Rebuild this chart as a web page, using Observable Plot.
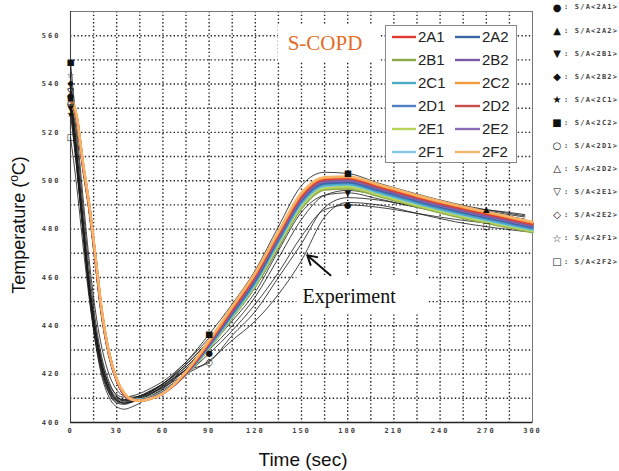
<!DOCTYPE html>
<html><head><meta charset="utf-8">
<script src="https://cdn.jsdelivr.net/npm/d3@7"></script>
<script src="https://cdn.jsdelivr.net/npm/@observablehq/plot@0.6"></script>
<style>body{margin:0;background:#fff} svg{display:block}</style>
</head><body><div id="chart"></div>
<script>
// ---------- simulation curves (S-COPD) ----------
const simTime = [0,4,8,12,16,20,25,30,35,40,45,50,60,75,90,105,120,135,150,165,180,200,225,250,275,300];
const sim2F2 = [535,527,508,491,470,448,429,418,412,409.5,409,409.5,412,421,434,448,462,479,495,501.5,501.8,498.5,494,490,486.5,483];
const sim2C2 = [535,527,508,491,470,448,429,418,412,409.5,409,409.5,412,421,433.5,447.5,461.5,478.5,494.5,501.2,501.5,498.2,493.7,489.7,486.2,482.7];
const sim2A1 = [534,526,507,490,469,447,428.5,417.5,411.5,409.5,409,409.5,412,420.5,433,447,461,478,494,500.8,501.2,497.8,493.3,489.3,485.8,482.3];
const sim2D2 = [534,526,507,490,469,447,428.5,417.5,411.5,409.5,409,409.5,412,420.5,433,446.5,460.5,477.5,493.5,500.5,500.9,497.5,493,489,485.5,482];
const sim2B2 = [534,526,507,490,469,447,428.5,417.5,411.5,409.5,409,409.7,412.2,420.5,432.5,446,460,477,493,500,500.4,497,492.5,488.5,485,481.5];
const sim2E2 = [534,526,507,490,469,447,428.5,417.5,411.5,409.5,409,409.7,412.2,420.3,432.3,445.8,459.7,476.6,492.6,499.7,500.1,496.7,492.2,488.2,484.7,481.2];
const sim2A2 = [534,526,507,490,469,447,428.5,417.5,411.5,409.5,409.2,409.8,412.3,420.3,432,445.3,459,476,492,499,499.5,496.2,491.7,487.7,484.2,480.8];
const sim2D1 = [534,526,507,490,469,447,428.5,417.5,411.5,409.5,409.2,409.8,412.3,420.2,431.8,445,458.7,475.6,491.6,498.8,499.2,495.9,491.4,487.4,483.9,480.5];
const sim2C1 = [534,526,507,490,469,447,428.5,417.5,411.5,409.5,409.3,409.9,412.4,420.2,431.5,444.5,458,475,491,498.2,498.6,495.3,490.8,486.8,483.3,480];
const sim2F1 = [534,526,507,490,469,447,428.5,417.5,411.5,409.6,409.4,410,412.5,420,431.2,444.2,457.6,474.5,490.5,497.8,498.3,495,490.5,486.5,483,479.7];
const sim2E1 = [533,525,506,489,468,446,428,417.5,411.5,409.6,409.5,410,412.5,420,431,443.8,457,473.5,489.5,497,497.4,494.2,489.8,485.8,482.4,479.2];
const sim2B1 = [533,525,506,489,468,446,428,417.5,411.5,409.7,409.6,410.2,412.6,419.8,430.6,443.4,456.4,472.8,488.6,496.3,496.8,493.7,489.3,485.3,481.9,478.7];

const simNames  = ["2A1","2A2","2B1","2B2","2C1","2C2","2D1","2D2","2E1","2E2","2F1","2F2"];
const simColors = ["#e03a30","#3a66a6","#8caa4c","#7c5aa6","#4bacc6","#f39a3c","#4f7fc0","#c9504a","#b8d35a","#8a6bb3","#7fc9e6","#f6b46a"];
const simDrawOrder = ["2B1","2E1","2F1","2C1","2D1","2A2","2E2","2B2","2D2","2A1","2C2","2F2"];
const simValues = {"2A1":sim2A1,"2A2":sim2A2,"2B1":sim2B1,"2B2":sim2B2,"2C1":sim2C1,"2C2":sim2C2,
  "2D1":sim2D1,"2D2":sim2D2,"2E1":sim2E1,"2E2":sim2E2,"2F1":sim2F1,"2F2":sim2F2};

// ---------- experiment curves ----------
const expTime = [0,4,8,12,16,20,25,30,35,40,45,50,60,75,90,105,120,135,150,165,180,200,225,250,270,295];
const expSq      = [549,522,494,468,447,432,420,413.5,411,410.5,411,412,416,425,436.5,449,463,481,498,503.5,503,499,494.5,490.5,488,485.5];
const expStarO   = [543.5,518,490,464,443,428,417,411,409,409,409.5,410.5,414,422,432,445,458,476,493,500,500.5,497,493,489.5,487,484];
const expDia     = [540.5,514,486,460,440,426,415,409.5,408,408.5,409.5,411,414.5,422,431,443,456,473,490,498.5,499.5,496.5,492.5,489,486.5,484];
const expDiaO    = [538,512,484,458,438,424,414,409,408,408.5,409.5,411,415,423,433,445,458,476,492,499,499.5,496,492,488.5,486,483];
const expTriDnO  = [537,511,484,459,440,426,416,411.5,410.5,411,412,413.5,417,425,435,446.5,459.5,477.5,494,501,501.5,498,494,490,487.5,485];
const expCirc    = [535,508,479,454,434,420,410.5,406.5,405.5,406.5,408,410,413.5,420,428.5,438,449,462,477,488,490,489,486.5,484,482.5,480.5];
const expTri     = [534.5,510,482,457,438,424,414,410,409.5,410,411,412.5,416,424,433.5,444,456,472,489,497.5,498.5,495.5,492,489,488,486];
const expTriO    = [533,509,482,457,437,423,413.5,409.5,409,409.5,410.5,412,416,424,434,446,459,477,493,500,501,497.5,493.5,489.5,487,484];
const expCircO   = [532,506,479,454,435,422,412.5,408.5,408,409,410.5,412,415.5,421.5,425,436,446,460,474,489,493,492,489,486,483.5,481];
const expTriDn   = [530,505,480,456,438,425,415,410.5,409.5,410,411,412.5,416,423,431.5,442,454,471,487,494,495,492.5,489,486,484,481.5];
const expStar    = [527.5,506,481,456,437,423,413,409,408.5,409,410,411.5,415,422,430,440,452,468,484,494,496,494,490.5,487,485,482.5];
const expSqO     = [518,498,474,452,434,421,412,408,407.5,408.5,410,411.5,414.5,420,425.5,434,442,453,467,485,491,490,486.5,483,481,479];

const expSymbols = ["■","☆","◆","◇","▽","●","▲","△","○","▼","★","□"];
const expSeriesList = [expSq,expStarO,expDia,expDiaO,expTriDnO,expCirc,expTri,expTriO,expCircO,expTriDn,expStar,expSqO];
const expMarkerTimes = {"■":[0,90,180],"●":[0,90,180],"○":[0,90],"▼":[0,180],"▲":[0,270],"□":[0,270]};

// ---------- ticks & legend text ----------
const xTicks = [0,30,60,90,120,150,180,210,240,270,300];
const yTicks = [400,420,440,460,480,500,520,540,560];
const xGrid = d3.range(15, 300, 15);
const yGrid = d3.range(410, 570, 10);
const markerLegendSymbols = ["●","▲","▼","◆","★","■","○","△","▽","◇","☆","□"];
const markerLegendLabels = ["S/A<2A1>","S/A<2A2>","S/A<2B1>","S/A<2B2>","S/A<2C1>","S/A<2C2>","S/A<2D1>","S/A<2D2>","S/A<2E1>","S/A<2E2>","S/A<2F1>","S/A<2F2>"];
const legendLeft  = ["2A1","2B1","2C1","2D1","2E1","2F1"];
const legendRight = ["2A2","2B2","2C2","2D2","2E2","2F2"];

// annotations (data space)
const scopdBox = [{t1:135, t2:201.5, T1:549, T2:564.5}];
const scopdLabel = [{t:141, T:554, text:"S-COPD"}];
const expBox = [{t1:147, t2:232.5, T1:445.5, T2:460.7}];
const expLabel = [{t:150.6, T:449.3, text:"Experiment"}];
const expArrow = [{t1:168.8, T1:460.9, t2:153.7, T2:469.2}];

// ---------- build tables ----------
const simData = simDrawOrder.flatMap(name => simTime.map((t, j) => ({series: name, t, T: simValues[name][j]})));
const expData = expSeriesList.flatMap((arr, i) => expTime.map((t, j) => ({series: "E" + i, t, T: arr[j]})));
const markerData = expSymbols.flatMap((sym, i) => (expMarkerTimes[sym] || [0]).map(t => ({sym, t, T: expSeriesList[i][expTime.indexOf(t)]})));

const chart = Plot.plot({
  width: 619, height: 471,
  marginLeft: 70, marginRight: 87, marginTop: 11, marginBottom: 49,
  x: {domain: [0, 300]},
  y: {domain: [400, 570]},
  color: {domain: simNames, range: simColors},
  style: {background: "#fff", fontFamily: "DejaVu Sans Mono", fontSize: "7px", overflow: "visible"},
  marks: [
    Plot.ruleX(xGrid, {stroke: "#222", strokeWidth: 1.4, strokeDasharray: "1.4,2.3"}),
    Plot.ruleY(yGrid, {stroke: "#222", strokeWidth: 1.4, strokeDasharray: "1.4,2.3"}),
    Plot.frame({stroke: "#777"}),
    Plot.ruleY([400], {stroke: "#222", strokeWidth: 1.4}),
    Plot.ruleX([0], {stroke: "#444", strokeWidth: 1.1}),
    Plot.axisX({ticks: xTicks, tickSize: 0, tickPadding: 6, label: null, fontWeight: "bold", fill: "#444", fontSize: 7}),
    Plot.axisY({ticks: yTicks, tickSize: 0, tickPadding: 10, label: null, fontWeight: "bold", fill: "#444", fontSize: 7}),
    Plot.rect(scopdBox, {x1: "t1", x2: "t2", y1: "T1", y2: "T2", fill: "#fff"}),
    Plot.rect(expBox, {x1: "t1", x2: "t2", y1: "T1", y2: "T2", fill: "#fff"}),
    Plot.line(expData, {x: "t", y: "T", z: "series", stroke: "#1a1a1a", strokeWidth: 0.9, strokeOpacity: 0.9, curve: "monotone-x"}),
    Plot.line(simData, {x: "t", y: "T", z: "series", stroke: "series", strokeWidth: 2.4, curve: "monotone-x"}),
    Plot.text(markerData, {x: "t", y: "T", text: "sym", fontSize: 8.5, fill: "#111", fontFamily: "DejaVu Sans"}),
    Plot.text(scopdLabel, {x: "t", y: "T", text: "text", textAnchor: "start", lineAnchor: "bottom", fontSize: 21, fill: "#e46c28", fontFamily: "Liberation Serif"}),
    Plot.text(expLabel, {x: "t", y: "T", text: "text", textAnchor: "start", lineAnchor: "bottom", fontSize: 20, fill: "#111", fontFamily: "Liberation Serif"}),
    Plot.arrow(expArrow, {x1: "t1", y1: "T1", x2: "t2", y2: "T2", stroke: "#111", strokeWidth: 2, headLength: 10})
  ]
});
document.getElementById("chart").appendChild(chart);

const svg = d3.select(chart);
svg.selectAll('g[aria-label="x-axis tick label"], g[aria-label="y-axis tick label"]').attr("letter-spacing", "2");

// legend box inside plot
const lg = svg.append("g").attr("text-anchor", "start");
lg.append("rect").attr("x", 385.5).attr("y", 25.5).attr("width", 131).attr("height", 137)
  .attr("fill", "#fff").attr("stroke", "#888").attr("stroke-width", 1);
const colorOf = name => simColors[simNames.indexOf(name)];
[[legendLeft, 392, 418], [legendRight, 455, 482]].forEach(([names, lx, tx]) => {
  names.forEach((name, i) => {
    const y = 37 + 23 * i;
    lg.append("line").attr("x1", lx).attr("x2", tx - 2).attr("y1", y).attr("y2", y)
      .attr("stroke", colorOf(name)).attr("stroke-width", 2.4);
    lg.append("text").attr("x", tx).attr("y", y).attr("dy", "0.36em").attr("text-anchor", "start")
      .attr("font-family", "Liberation Sans").attr("font-size", 15).attr("fill", "#222").text(name);
  });
});

// marker legend on the right
const ml = svg.append("g");
markerLegendSymbols.forEach((sym, i) => {
  const y = 7 + 23.1 * i;
  ml.append("text").attr("x", 557).attr("y", y).attr("dy", "0.35em").attr("text-anchor", "middle")
    .attr("font-family", "DejaVu Sans").attr("font-size", 10).attr("fill", "#111").text(sym);
  ml.append("text").attr("x", 564).attr("y", y).attr("dy", "0.35em").attr("text-anchor", "start")
    .attr("font-family", "DejaVu Sans Mono").attr("font-size", 7).attr("font-weight", "bold")
    .attr("letter-spacing", "1.2").attr("fill", "#444").text(": " + markerLegendLabels[i]);
});

// axis titles
svg.append("text").attr("x", 303).attr("y", 466).attr("text-anchor", "middle")
  .attr("font-family", "Liberation Sans").attr("font-size", 19).attr("fill", "#111").text("Time (sec)");
const yt = svg.append("text").attr("transform", "translate(25,225) rotate(-90)").attr("text-anchor", "middle")
  .attr("font-family", "Liberation Sans").attr("font-size", 18).attr("fill", "#111");
yt.append("tspan").text("Temperature (");
yt.append("tspan").attr("font-size", 12).attr("dy", -7).text("o");
yt.append("tspan").attr("dy", 7).text("C)");
</script>
</body></html>
